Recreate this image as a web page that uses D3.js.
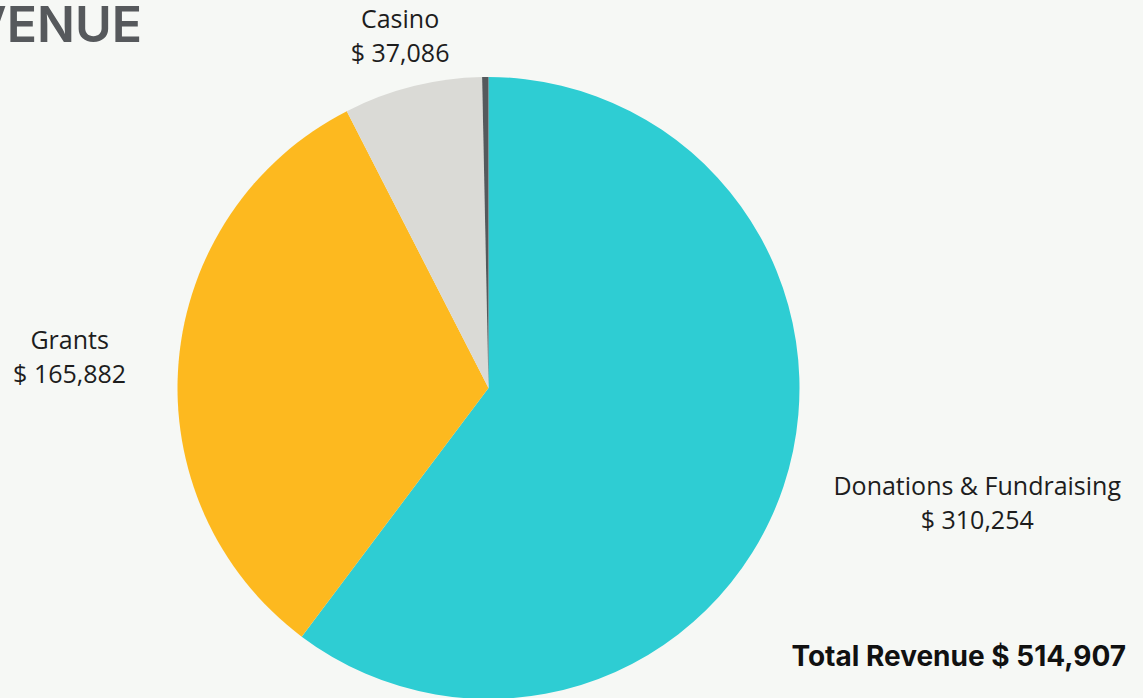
<!DOCTYPE html>
<html>
<head>
<meta charset="utf-8">
<script src="https://cdn.jsdelivr.net/npm/d3@7"></script>
<style>
  html, body { margin: 0; padding: 0; background: #f6f8f5; }
  svg { display: block; }
</style>
</head>
<body>
<svg id="chart" width="1143" height="698"></svg>
<script>
const categories = ["Donations & Fundraising", "Grants", "Casino", "Other"];
const values = [310254, 165882, 37086, 1685];
const colors = ["#2ecdd3", "#fdb91f", "#dadad6", "#55595c"];
const showLabel = [true, true, true, false];
const total = 514907;

const width = 1143, height = 698;
const cx = 488.5, cy = 388, radius = 311;
// label placement (degrees clockwise from top, distance from centre)
const labelAngle = [103.2, 274.2, 345.9, 0];
const labelDist = [502, 420, 363, 0];

const svg = d3.select("#chart");
const fmt = d3.format(",");

svg.append("text")
  .attr("x", 142).attr("y", 42)
  .attr("text-anchor", "end")
  .style("font-family", "Inter, 'Open Sans', sans-serif")
  .style("font-size", "50px")
  .style("font-weight", "600")
  .style("fill", "#56595c")
  .text("REVENUE");

const pie = d3.pie().sort(null).value(d => d)(values);
const arc = d3.arc().innerRadius(0).outerRadius(radius);

const g = svg.append("g").attr("transform", `translate(${cx},${cy})`);
g.selectAll("path")
  .data(pie)
  .join("path")
  .attr("d", arc)
  .attr("fill", (d, i) => colors[i]);

pie.forEach((d, i) => {
  if (!showLabel[i]) return;
  const a = labelAngle[i] * Math.PI / 180;
  const r = labelDist[i];
  const x = Math.sin(a) * r, y = -Math.cos(a) * r;
  const t = g.append("text")
    .attr("text-anchor", "middle")
    .attr("transform", `translate(${x},${y})`)
    .style("font-family", "'Open Sans', Inter, sans-serif")
    .style("font-size", "25px")
    .style("fill", "#1d1d1d");
  t.append("tspan").attr("x", 0).attr("y", -8).text(categories[i]);
  t.append("tspan").attr("x", 0).attr("y", 26).text("$ " + fmt(values[i]));
});

svg.append("text")
  .attr("x", 1126).attr("y", 666)
  .attr("text-anchor", "end")
  .style("font-family", "Inter, 'Open Sans', sans-serif")
  .style("font-size", "28px")
  .style("font-weight", "700")
  .style("fill", "#111")
  .text("Total Revenue $ " + fmt(total));
</script>
</body>
</html>
